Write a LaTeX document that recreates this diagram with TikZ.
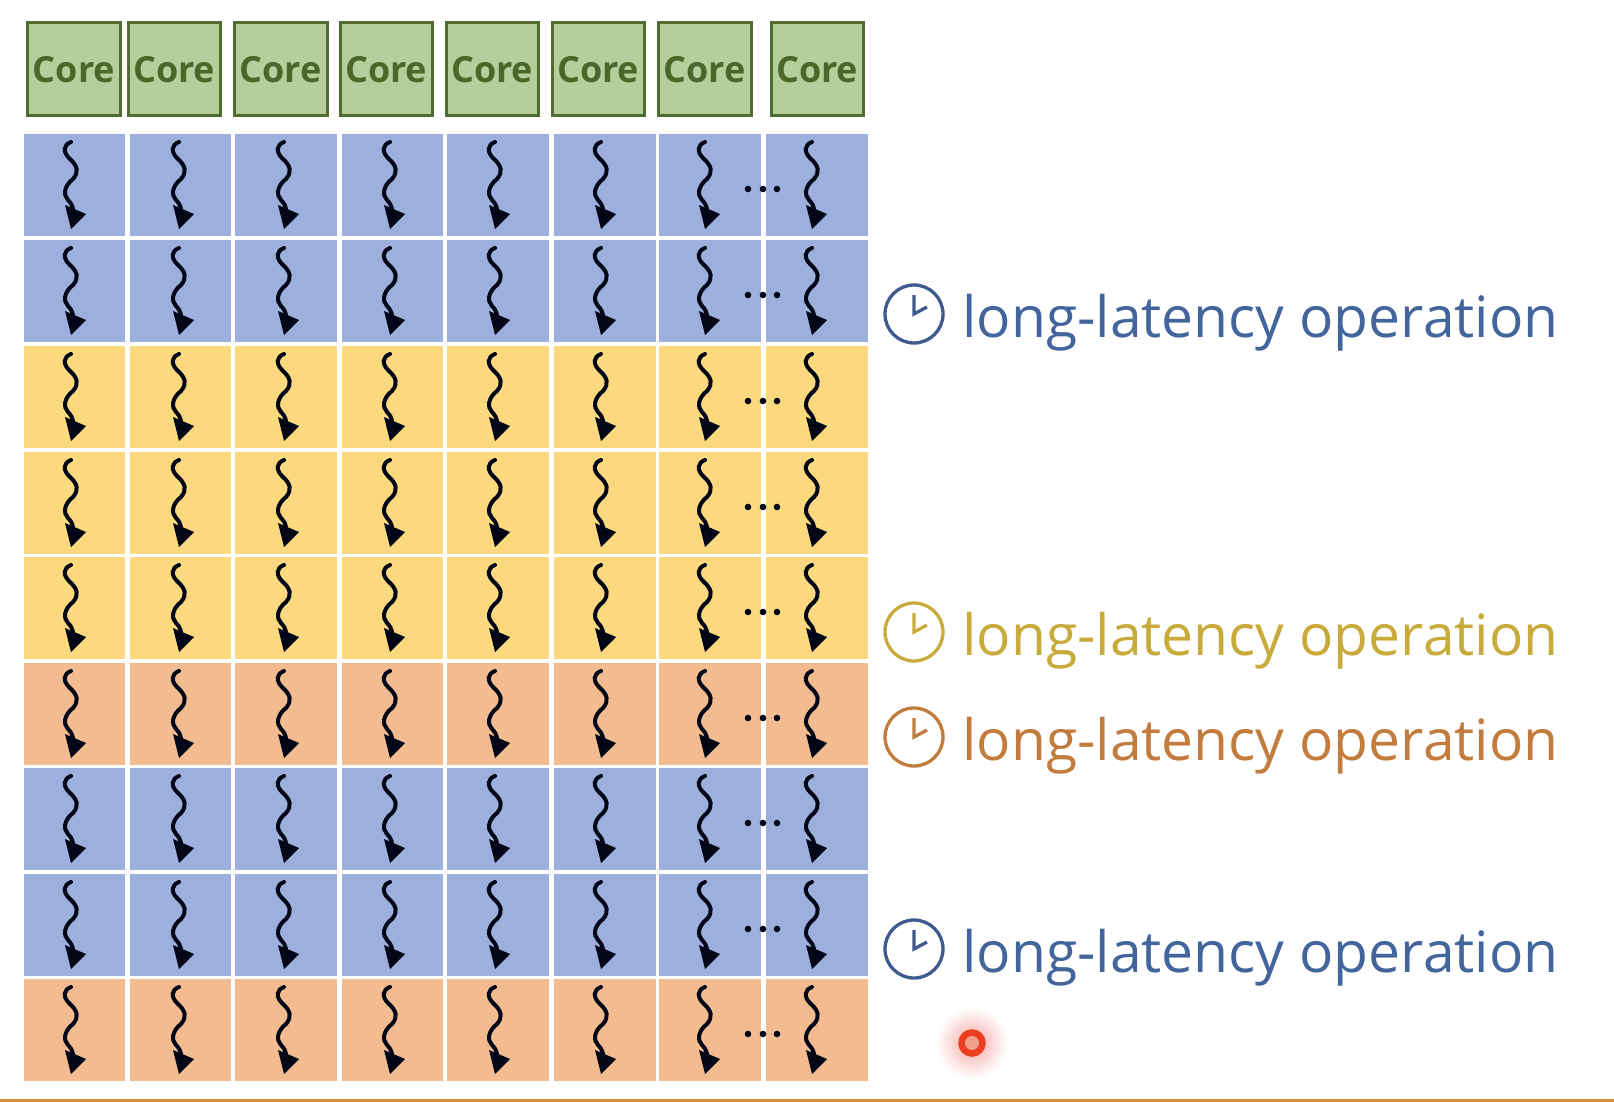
\documentclass[tikz,border=0pt]{standalone}
\usepackage{fontspec}
\setmainfont{Open Sans}
\definecolor{cellB}{HTML}{9DB0DD}
\definecolor{cellY}{HTML}{FCD97E}
\definecolor{cellO}{HTML}{F3BC90}
\definecolor{coreF}{HTML}{B6CE9B}
\definecolor{coreL}{HTML}{4F6D30}
\definecolor{coreT}{HTML}{4A6829}
\definecolor{txtB}{HTML}{42659C}
\definecolor{txtY}{HTML}{C9AB3C}
\definecolor{txtO}{HTML}{C27C3E}
\definecolor{clkB}{HTML}{3F5A8E}
\definecolor{thr}{HTML}{020616}
\definecolor{ptrR}{HTML}{EC3F20}
\definecolor{ptrI}{HTML}{EFA08C}
\definecolor{ptrG}{HTML}{F3A8A0}
\definecolor{ruleO}{HTML}{DE8A3C}
\tikzset{
  x=1pt,y=-1pt,
  cellbox/.style={fill=#1,draw=none,inner sep=0pt,anchor=north west},
  corebox/.style={fill=coreF,draw=coreL,line width=3.4pt,inner sep=0pt,anchor=north west,
     text=coreT,font=\fontsize{36}{36}\selectfont\bfseries,align=center},
  opnote/.style={anchor=base west,inner sep=0pt,font=\fontsize{57}{57}\selectfont},
  threadpic/.pic={
    \draw[thr,line width=4pt,line cap=round]
      (-1,-43) .. controls (-9,-40) and (-9,-33) .. (-3,-27)
      .. controls (6,-19) and (7,-13) .. (1,-6)
      .. controls (-8,1) and (-9,10) .. (-4,15)
      .. controls (-1,18) and (0,20) .. (1,24);
    \fill[thr] (-7,20) -- (14,29) -- (-1,44) -- cycle;
  },
  clockpic/.pic={
    \draw[line width=3.3pt,pic actions] (0,0) circle[radius=29];
    \draw[line width=3.3pt,pic actions] (0,-19) -- (0,0) -- (13,-7);
  },
}
\begin{document}
\begin{tikzpicture}
\useasboundingbox (0,0) rectangle (1614,1102);
% cores
\foreach \i/\xa/\xb in {1/25.5/119,2/126.5/218.5,3/232.5/325.5,4/338.5/430.5,5/444.5/536.5,6/550.5/642.5,7/656.5/749.5,8/769.5/861.5}{
  \pgfmathsetlengthmacro{\w}{\xb-\xa}
  \node[corebox,minimum width=\w,minimum height=93pt] (core\i) at (\xa,21) {Core};
}
% cells and threads
\foreach \r/\ya/\c in {1/134/cellB,2/240/cellB,3/346/cellY,4/452/cellY,5/557/cellY,6/663/cellO,7/768/cellB,8/874/cellB,9/979/cellO}{
  \foreach \k/\xa/\xb/\tx in {1/24/125/72,2/130/231/180,3/235/337/285,4/342/443/391,5/447/549/496,6/554/656/602,7/659/761/706,8/766/868/813}{
    \pgfmathsetlengthmacro{\w}{\xb-\xa}
    \node[cellbox=\c,minimum width=\w,minimum height=102pt] (cell\r-\k) at (\xa,\ya) {};
    \pgfmathsetmacro{\yc}{\ya+51}
    \pic at (\tx,\yc) {threadpic};
  }
  \pgfmathsetmacro{\yd}{\ya+55}
  \foreach \dx in {748,763,777}{
    \fill[thr] (\dx,\yd) circle[radius=3.3];
  }
}
% notes
\foreach \n/\yy/\cl/\tc in {a/314/clkB/txtB,b/632/txtY/txtY,c/737/txtO/txtO,d/949/clkB/txtB}{
  \pic[draw=\cl] at (914,\yy) {clockpic};
  \pgfmathsetmacro{\yb}{\yy+23}
  \node[opnote,text=\tc] (note\n) at (962,\yb) {long-latency operation};
}
% pointer
\shade[inner color=ptrG,outer color=white] (972,1043) circle[radius=36];
\draw[draw=ptrR,line width=6.5pt,fill=ptrI] (972,1043) circle[radius=10.5];
% bottom rule
\fill[ruleO] (0,1098.5) rectangle (1614,1102);
\end{tikzpicture}
\end{document}
